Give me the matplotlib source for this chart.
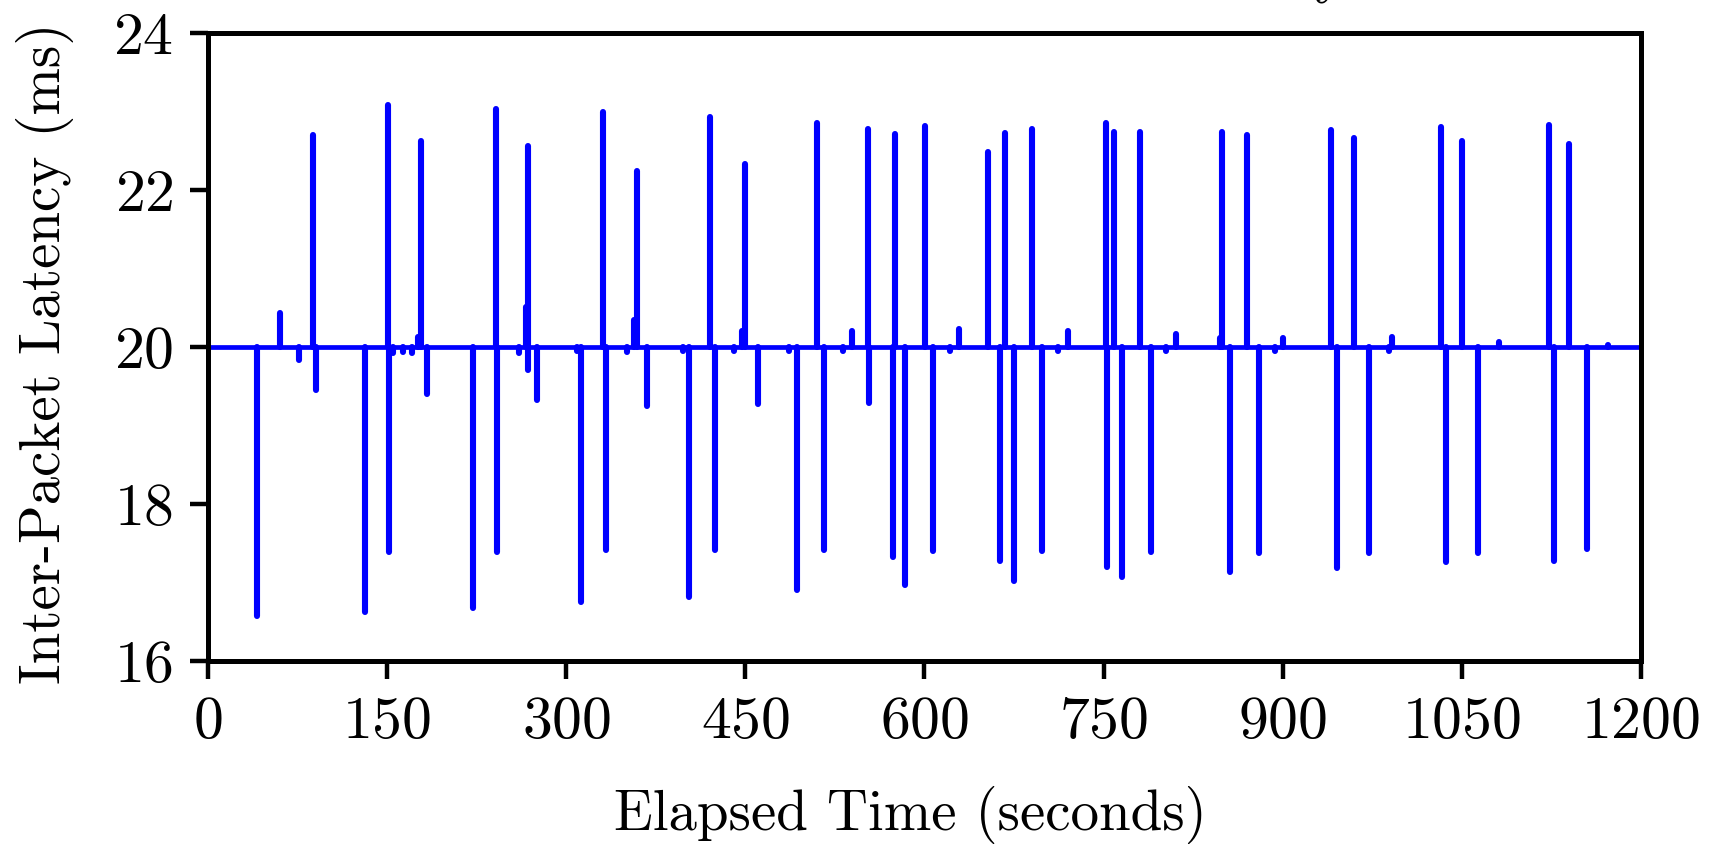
import matplotlib
matplotlib.use("Agg")
import matplotlib.pyplot as plt

plt.rcParams['font.family'] = ['cmr10', 'DejaVu Serif']
plt.rcParams['axes.formatter.use_mathtext'] = True

# spike events: time (s) and latency (ms)
spike_times = [41.3, 60.3, 76.5, 88.2, 90.7, 131.5, 150.5, 151.5, 155, 163.5,
               171, 176, 178.1, 183.4, 222.2, 241.2, 242.3, 260.7, 266.3, 267.7,
               268.3, 275.5, 308.8, 312.7, 330.6, 333.3, 350.6, 356.8, 359.0, 368.0,
               398, 403.1, 420.4, 424.6, 440.5, 447.0, 449.7, 460.4, 486.7, 493.5,
               510.3, 515.9, 531.6, 539.1, 552.8, 553.5, 574.0, 575.6, 584.0, 600.4,
               607.5, 621.4, 629.2, 653.3, 663.3, 667.0, 674.8, 690.4, 698.8, 712.2,
               719.8, 751.6, 753.0, 758.3, 765.3, 780.1, 789.6, 802, 810.2, 847.6,
               849.2, 855.7, 869.7, 880.3, 893.7, 900.4, 940.6, 945.7, 959.8, 972.1,
               988.6, 991.4, 1032.1, 1036.9, 1049.7, 1063.4, 1081, 1123.1, 1127.1, 1139.4,
               1154.7, 1172]
spike_values = [16.58, 20.43, 19.84, 22.70, 19.45, 16.63, 23.08, 17.39, 19.93, 19.94,
                19.92, 20.13, 22.62, 19.40, 16.68, 23.03, 17.39, 19.92, 20.51, 19.71,
                22.56, 19.32, 19.95, 16.75, 23.00, 17.42, 19.94, 20.35, 22.24, 19.25,
                19.95, 16.82, 22.93, 17.42, 19.95, 20.21, 22.33, 19.27, 19.95, 16.90,
                22.86, 17.42, 19.95, 20.21, 22.78, 19.29, 17.32, 22.71, 16.97, 22.82,
                17.40, 19.95, 20.23, 22.49, 17.27, 22.73, 17.02, 22.78, 17.40, 19.95,
                20.20, 22.85, 17.20, 22.74, 17.07, 22.74, 17.39, 19.95, 20.16, 20.11,
                22.74, 17.14, 22.70, 17.38, 19.95, 20.12, 22.77, 17.19, 22.66, 17.38,
                19.95, 20.13, 22.80, 17.26, 22.63, 17.38, 20.07, 22.83, 17.27, 22.59,
                17.43, 20.03]
baseline = 20.0

x_ticks = [0, 150, 300, 450, 600, 750, 900, 1050, 1200]
y_ticks = [16, 18, 20, 22, 24]

fig = plt.figure(figsize=(17.16, 8.49), dpi=100)
ax = fig.add_axes([0.1212, 0.2214, 0.8351, 0.7397])

ax.plot([x_ticks[0], x_ticks[-1]], [baseline, baseline], color='#0000ff', lw=3.4,
        solid_capstyle='butt', zorder=2)
ax.vlines(spike_times, baseline, spike_values, color='#0000ff', lw=4.4,
          capstyle='round', zorder=3)

ax.set_xlim(x_ticks[0], x_ticks[-1])
ax.set_ylim(y_ticks[0], y_ticks[-1])
ax.set_xticks(x_ticks)
ax.set_yticks(y_ticks)
ax.tick_params(direction='out', length=13, width=3.2, labelsize=43, pad=12)
for s in ax.spines.values():
    s.set_linewidth(3.6)

ax.set_xlabel('Elapsed Time (seconds)', fontsize=41, va='center')
ax.xaxis.set_label_coords(0.49, -0.245)
ax.set_ylabel('Inter-Packet Latency (ms)', fontsize=41, va='center')
ax.yaxis.set_label_coords(-0.114, 0.49)

# title mostly cut off at the top edge in the reference
fig.text(1346 / 1716, 1 + 8 / 849, 'Inter-Packet Latency', ha='right', va='baseline',
         fontsize=43)

fig.savefig('out.png', dpi=100)
